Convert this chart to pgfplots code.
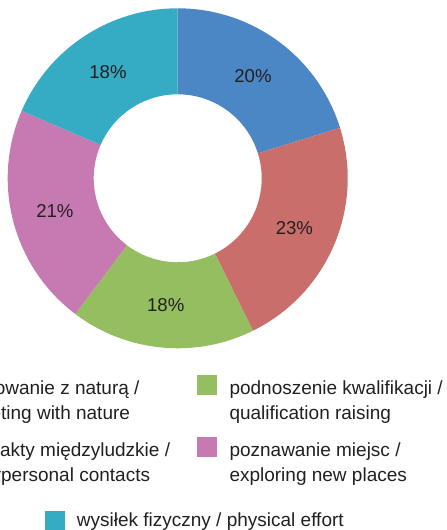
\documentclass[border=0pt]{standalone}
\usepackage{pgfplots}
\pgfplotsset{compat=1.18}
\usepackage{pgfplotstable}
\usepackage{fontspec}
\setmainfont{Liberation Sans}
\definecolor{c1}{HTML}{4C87C5}
\definecolor{c2}{HTML}{C96E6B}
\definecolor{c3}{HTML}{94BE5F}
\definecolor{c4}{HTML}{C77AB2}
\definecolor{c5}{HTML}{35ABC4}
\definecolor{txt}{HTML}{231F20}
\pgfplotstableread{
value label color
20.2 20 c1
22.5 23 c2
17.6 18 c3
21.2 21 c4
18.5 18 c5
}\piedata
\newcommand\cx{177.7}
\newcommand\cy{351.7}
\begin{document}
\begin{tikzpicture}
\useasboundingbox (0,0) rectangle (447pt,530pt);
\clip (0,0) rectangle (447pt,530pt);
\begin{axis}[at={(0pt,0pt)}, anchor=south west, scale only axis,
  width=447pt, height=530pt, xmin=0, xmax=447, ymin=0, ymax=530,
  hide axis, clip=false]
\addplot[draw=none, forget plot] coordinates {(0,0)};
\pgfplotsextra{
 \xdef\acur{90}
 \foreach \i in {0,...,4}{
   \pgfplotstablegetelem{\i}{value}\of\piedata \let\vv\pgfplotsretval
   \pgfplotstablegetelem{\i}{label}\of\piedata \let\lab\pgfplotsretval
   \pgfplotstablegetelem{\i}{color}\of\piedata \let\col\pgfplotsretval
   \pgfmathsetmacro\aend{\acur-3.6*\vv}
   \pgfmathsetmacro\amid{(\acur+\aend)/2}
   \pgfmathsetmacro\xa{\cx+170*cos(\acur)}
   \pgfmathsetmacro\ya{\cy+170*sin(\acur)}
   \pgfmathsetmacro\xb{\cx+84*cos(\aend)}
   \pgfmathsetmacro\yb{\cy+84*sin(\aend)}
   \pgfmathsetmacro\xm{\cx+127*cos(\amid)}
   \pgfmathsetmacro\ym{\cy+127*sin(\amid)}
   \fill[fill=\col] (axis cs:\xa,\ya) arc[start angle=\acur, end angle=\aend, radius=170pt]
      -- (axis cs:\xb,\yb) arc[start angle=\aend, end angle=\acur, radius=84pt] -- cycle;
   \node[text=txt, font=\fontsize{18.6}{22}\selectfont] at (axis cs:\xm,\ym) {\lab\%};
   \xdef\acur{\aend}
 }
}
\end{axis}
% legend
\begin{scope}[every node/.style={anchor=base west, inner sep=0pt, text=txt, font=\fontsize{19}{23}\selectfont}]
\fill[c1] (-68pt,135pt) rectangle (-48pt,155pt);
\node at (-36pt,135pt) {obcowanie z naturą /};
\node at (-36pt,110pt) {meeting with nature};
\fill[c2] (-68pt,72.5pt) rectangle (-48pt,92.5pt);
\node at (-36pt,73pt) {kontakty międzyludzkie /};
\node at (-36pt,48pt) {interpersonal contacts};
\fill[c3] (197.3pt,135pt) rectangle (217.3pt,155pt);
\node at (229.3pt,135pt) {podnoszenie kwalifikacji /};
\node at (229.3pt,110pt) {qualification raising};
\fill[c4] (197.3pt,72.5pt) rectangle (217.3pt,92.5pt);
\node at (229.3pt,73pt) {poznawanie miejsc /};
\node at (229.3pt,48pt) {exploring new places};
\fill[c5] (45pt,-0.7pt) rectangle (65pt,19.3pt);
\node at (76.7pt,3pt) {wysiłek fizyczny / physical effort};
\end{scope}
\end{tikzpicture}
\end{document}
